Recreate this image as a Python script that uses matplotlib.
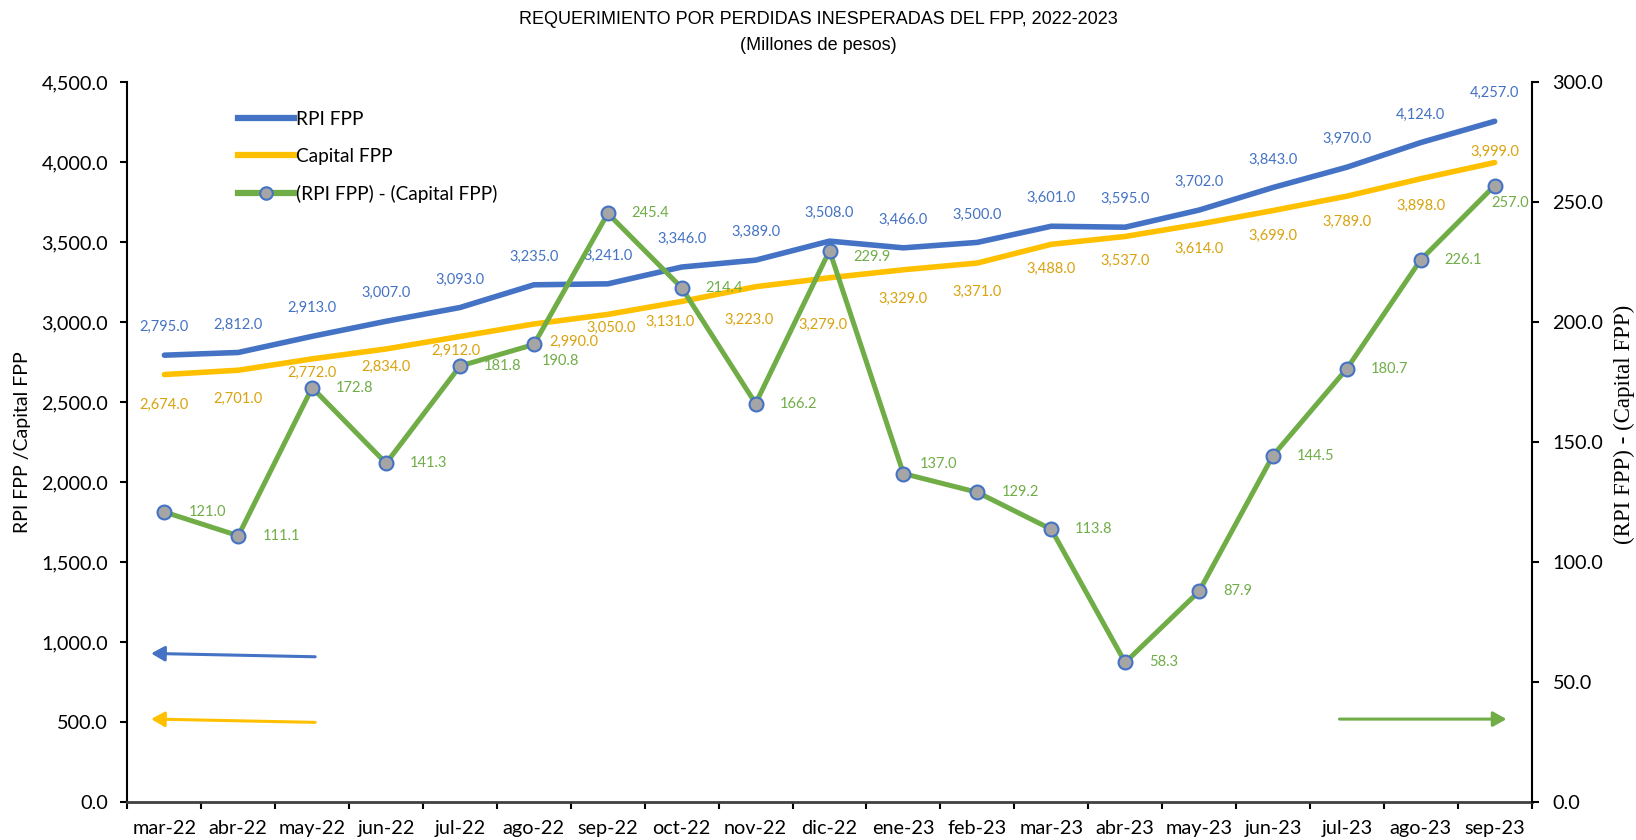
import numpy as np
import matplotlib
matplotlib.use('Agg')
from matplotlib import pyplot as plt
from matplotlib.lines import Line2D
from matplotlib.ticker import FuncFormatter

meses = ['mar-22', 'abr-22', 'may-22', 'jun-22', 'jul-22', 'ago-22', 'sep-22', 'oct-22',
         'nov-22', 'dic-22', 'ene-23', 'feb-23', 'mar-23', 'abr-23', 'may-23', 'jun-23',
         'jul-23', 'ago-23', 'sep-23']
rpi = [2795.0, 2812.0, 2913.0, 3007.0, 3093.0, 3235.0, 3241.0, 3346.0, 3389.0, 3508.0,
       3466.0, 3500.0, 3601.0, 3595.0, 3702.0, 3843.0, 3970.0, 4124.0, 4257.0]
capital = [2674.0, 2701.0, 2772.0, 2834.0, 2912.0, 2990.0, 3050.0, 3131.0, 3223.0, 3279.0,
           3329.0, 3371.0, 3488.0, 3537.0, 3614.0, 3699.0, 3789.0, 3898.0, 3999.0]
diferencia = [121.0, 111.1, 172.8, 141.3, 181.8, 190.8, 245.4, 214.4, 166.2, 229.9,
              137.0, 129.2, 113.8, 58.3, 87.9, 144.5, 180.7, 226.1, 257.0]

AZUL = '#4472C4'
AMARILLO = '#FFC000'
VERDE = '#70AD47'
TXT_AMARILLO = '#D9A30E'

# desplazamiento de las etiquetas en pixeles (dx, dy hacia abajo)
off_cap = [(0, 30), (0, 29), (0, 14), (0, 18), (-4, 14), (40, 18), (3, 13), (-12, 20),
           (-7, 33), (-7, 47), (0, 29), (0, 29), (0, 25), (0, 24), (0, 25), (0, 25),
           (0, 26), (0, 27), (0, -11)]
off_dif = [(24, 0)] * 19
off_dif[5] = (8, 17)
off_dif[9] = (24, 6)
off_dif[10] = (16, -10)
off_dif[18] = (-3, 17)

PX = 0.72  # puntos por pixel a 100 dpi

plt.rcParams['font.family'] = ['Lato', 'DejaVu Sans']

fig = plt.figure(figsize=(16.36, 8.4), dpi=100)
ax = fig.add_axes([0.0779, 0.0448, 0.8583, 0.8571])
ax2 = ax.twinx()

x = np.arange(len(meses))
ax.plot(x, rpi, color=AZUL, lw=4.0, solid_capstyle='round', zorder=3)
ax.plot(x, capital, color=AMARILLO, lw=4.0, solid_capstyle='round', zorder=3)
ax2.plot(x, diferencia, color=VERDE, lw=3.6, marker='o', ms=10, mfc='#A5A5A5',
         mec=AZUL, mew=1.5, solid_capstyle='round', zorder=4)

for i in range(len(meses)):
    ax.annotate(f'{rpi[i]:,.1f}', (x[i], rpi[i]), xytext=(0, 28 * PX),
                textcoords='offset points', ha='center', va='center',
                color=AZUL, fontsize=10.5)
    dx, dy = off_cap[i]
    ax.annotate(f'{capital[i]:,.1f}', (x[i], capital[i]), xytext=(dx * PX, -dy * PX),
                textcoords='offset points', ha='center', va='center',
                color=TXT_AMARILLO, fontsize=10.5)
    dx, dy = off_dif[i]
    ax2.annotate(f'{diferencia[i]:,.1f}', (x[i], diferencia[i]), xytext=(dx * PX, -dy * PX),
                 textcoords='offset points', ha='left', va='center',
                 color=VERDE, fontsize=10.5, zorder=5)

# ejes
ax.set_xlim(-0.5, len(meses) - 0.5)
ax.set_ylim(0, 4500)
ax2.set_ylim(0, 300)
ax.set_yticks(np.arange(0, 4501, 500))
ax2.set_yticks(np.arange(0, 301, 50))
fmt = FuncFormatter(lambda v, p: f'{v:,.1f}')
ax.yaxis.set_major_formatter(fmt)
ax2.yaxis.set_major_formatter(fmt)

ax.set_xticks(x)
ax.set_xticklabels(meses)
ax.set_xticks(np.arange(-0.5, len(meses), 1), minor=True)
ax.tick_params(axis='x', which='major', length=0, pad=12.5, labelsize=14.3)
ax.tick_params(axis='x', which='minor', length=5, width=1.5, direction='out')
ax.tick_params(axis='y', length=5, width=1.5, direction='out', pad=9, labelsize=14.3)
ax2.tick_params(axis='y', length=5, width=1.5, direction='out', pad=10, labelsize=14.3)

for a in (ax, ax2):
    a.spines['top'].set_visible(False)
ax.spines['right'].set_visible(False)
ax2.spines['left'].set_visible(False)
ax2.spines['bottom'].set_visible(False)
ax.spines['left'].set_linewidth(1.5)
ax.spines['bottom'].set_linewidth(2)
ax.spines['bottom'].set_color('#404040')
ax2.spines['right'].set_linewidth(1.5)

# flechas que indican el eje de cada serie
flecha = dict(arrowstyle='-|>,head_length=0.8,head_width=0.45', lw=2.2, shrinkA=0, shrinkB=0)
ax.annotate('', xy=(-0.18, 931), xytext=(2.04, 910),
            arrowprops=dict(flecha, color=AZUL))
ax.annotate('', xy=(-0.18, 521), xytext=(2.04, 500),
            arrowprops=dict(flecha, color=AMARILLO))
ax2.annotate('', xy=(18.16, 34.7), xytext=(15.9, 34.7),
             arrowprops=dict(flecha, color=VERDE))

# leyenda
handles = [Line2D([], [], color=AZUL, lw=4.5),
           Line2D([], [], color=AMARILLO, lw=4.5),
           Line2D([], [], color=VERDE, lw=4.5, marker='o', ms=9, mfc='#A5A5A5',
                  mec=AZUL, mew=1.5)]
fig.legend(handles, ['RPI FPP', 'Capital FPP', '(RPI FPP) - (Capital FPP)'],
           loc='upper left', bbox_to_anchor=(0.1455, 0.868), frameon=False,
           fontsize=13.7, handlelength=2.95, handletextpad=0.12, labelspacing=1.05,
           borderpad=0, borderaxespad=0)

# titulos
fig.text(0.5, 1 - 19 / 840, 'REQUERIMIENTO POR PERDIDAS INESPERADAS DEL FPP, 2022-2023',
         ha='center', va='center', fontsize=13,
         family=['Liberation Sans', 'DejaVu Sans'])
fig.text(0.5, 1 - 46 / 840, '(Millones de pesos)', ha='center', va='center', fontsize=13,
         family=['Liberation Sans', 'DejaVu Sans'])
fig.text(23 / 1636, 1 - 442 / 840, 'RPI FPP /Capital FPP', rotation=90,
         ha='center', va='center', fontsize=14)
fig.text(1624 / 1636, 1 - 424 / 840, '(RPI FPP) - (Capital FPP)', rotation=90,
         ha='center', va='center', fontsize=16.5,
         family=['Liberation Serif', 'DejaVu Serif'])

fig.savefig('out.png', dpi=100)
